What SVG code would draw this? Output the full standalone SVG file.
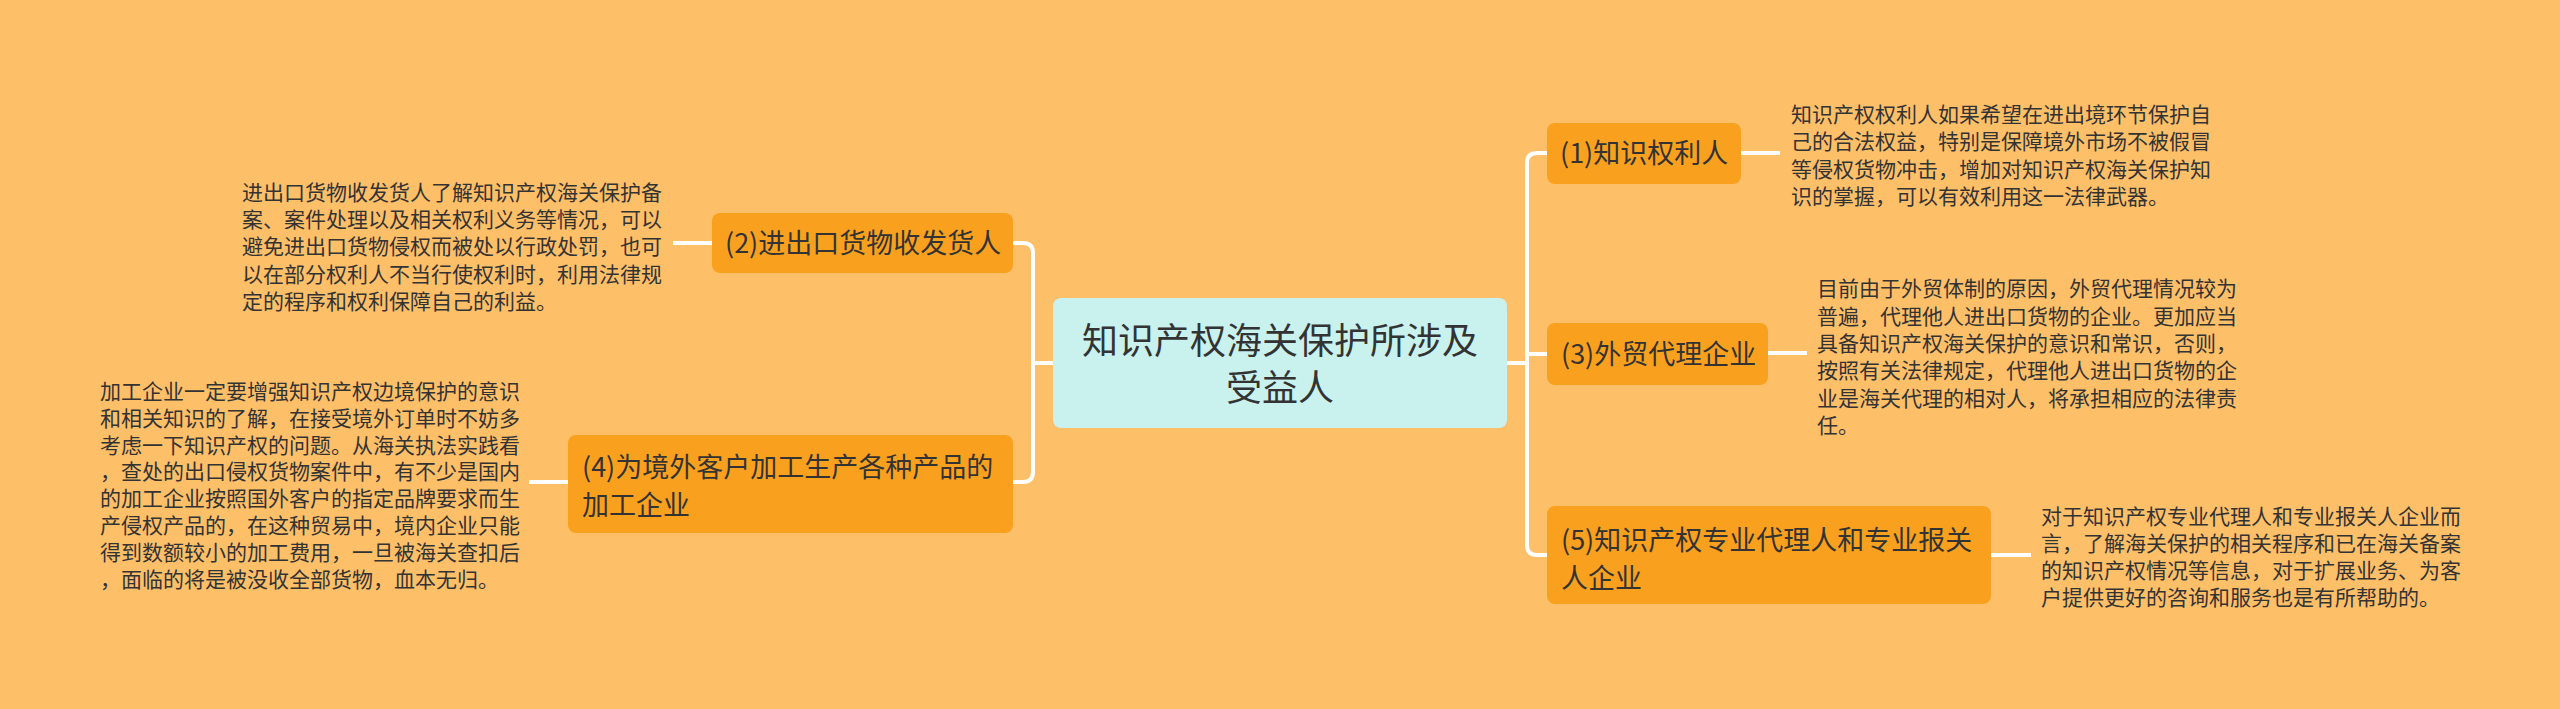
<svg xmlns="http://www.w3.org/2000/svg" width="2560" height="709" viewBox="0 0 2560 709">
<style>
.bg{fill:#FEBF69}
.node{fill:#F9A11F}
.root{fill:#C9F2EF}
.nt{font-family:"Noto Sans CJK SC","Noto Sans",sans-serif;font-size:27px;fill:#333333}
.rt{font-family:"Noto Sans CJK SC","Noto Sans",sans-serif;font-size:36px;fill:#333333;text-anchor:middle}
.lt{font-family:"Noto Sans CJK SC","Noto Sans",sans-serif;font-size:21px;fill:#333333}
.conn{fill:none;stroke:#FFFFFF;stroke-width:4;stroke-linecap:butt}
</style>
<rect class="bg" x="0" y="0" width="2560" height="709"/>
<g id="connectors">
<path class="conn" d="M1507,363 H1527"/>
<path class="conn" d="M1547,153 H1537 Q1527,153 1527,163 V545 Q1527,555 1537,555 H1547"/>
<path class="conn" d="M1527,354 H1547"/>
<path class="conn" d="M1053,363 H1033"/>
<path class="conn" d="M1013,243 H1023 Q1033,243 1033,253 V472 Q1033,482 1023,482 H1013"/>
<path class="conn" d="M1741,153 H1780"/>
<path class="conn" d="M1768,353 H1807"/>
<path class="conn" d="M1991,555 H2031"/>
<path class="conn" d="M712,243 H673"/>
<path class="conn" d="M568,482 H529"/>
</g>
<g id="root">
<rect class="root" x="1053" y="298" width="454" height="130" rx="8"/>
<text class="rt" x="1280" y="354">知识产权海关保护所涉及</text>
<text class="rt" x="1280" y="401">受益人</text>
</g>
<g id="n1">
<rect class="node" x="1547" y="123" width="194" height="61" rx="8"/>
<text class="nt" x="1560" y="163">(1)知识权利人</text>
</g>
<g id="n1-leaf">
<text class="lt" x="1791" y="122">知识产权权利人如果希望在进出境环节保护自</text>
<text class="lt" x="1791" y="149.3">己的合法权益，特别是保障境外市场不被假冒</text>
<text class="lt" x="1791" y="176.6">等侵权货物冲击，增加对知识产权海关保护知</text>
<text class="lt" x="1791" y="203.9">识的掌握，可以有效利用这一法律武器。</text>
</g>
<g id="n3">
<rect class="node" x="1547" y="323" width="221" height="62" rx="8"/>
<text class="nt" x="1561" y="364">(3)外贸代理企业</text>
</g>
<g id="n3-leaf">
<text class="lt" x="1817" y="296.3">目前由于外贸体制的原因，外贸代理情况较为</text>
<text class="lt" x="1817" y="323.6">普遍，代理他人进出口货物的企业。更加应当</text>
<text class="lt" x="1817" y="350.9">具备知识产权海关保护的意识和常识，否则，</text>
<text class="lt" x="1817" y="378.2">按照有关法律规定，代理他人进出口货物的企</text>
<text class="lt" x="1817" y="405.5">业是海关代理的相对人，将承担相应的法律责</text>
<text class="lt" x="1817" y="432.8">任。</text>
</g>
<g id="n5">
<rect class="node" x="1547" y="506" width="444" height="98" rx="8"/>
<text class="nt" x="1561" y="550">(5)知识产权专业代理人和专业报关</text>
<text class="nt" x="1561" y="588">人企业</text>
</g>
<g id="n5-leaf">
<text class="lt" x="2041" y="523.5">对于知识产权专业代理人和专业报关人企业而</text>
<text class="lt" x="2041" y="550.8">言，了解海关保护的相关程序和已在海关备案</text>
<text class="lt" x="2041" y="578.1">的知识产权情况等信息，对于扩展业务、为客</text>
<text class="lt" x="2041" y="605.4">户提供更好的咨询和服务也是有所帮助的。</text>
</g>
<g id="n2">
<rect class="node" x="712" y="213" width="301" height="60" rx="8"/>
<text class="nt" x="725" y="253">(2)进出口货物收发货人</text>
</g>
<g id="n2-leaf">
<text class="lt" x="242" y="199.6">进出口货物收发货人了解知识产权海关保护备</text>
<text class="lt" x="242" y="226.9">案、案件处理以及相关权利义务等情况，可以</text>
<text class="lt" x="242" y="254.2">避免进出口货物侵权而被处以行政处罚，也可</text>
<text class="lt" x="242" y="281.5">以在部分权利人不当行使权利时，利用法律规</text>
<text class="lt" x="242" y="308.8">定的程序和权利保障自己的利益。</text>
</g>
<g id="n4">
<rect class="node" x="568" y="435" width="445" height="98" rx="8"/>
<text class="nt" x="582" y="477">(4)为境外客户加工生产各种产品的</text>
<text class="nt" x="582" y="515">加工企业</text>
</g>
<g id="n4-leaf">
<text class="lt" x="100" y="399">加工企业一定要增强知识产权边境保护的意识</text>
<text class="lt" x="100" y="425.8">和相关知识的了解，在接受境外订单时不妨多</text>
<text class="lt" x="100" y="452.6">考虑一下知识产权的问题。从海关执法实践看</text>
<text class="lt" x="100" y="479.4">，查处的出口侵权货物案件中，有不少是国内</text>
<text class="lt" x="100" y="506.2">的加工企业按照国外客户的指定品牌要求而生</text>
<text class="lt" x="100" y="533">产侵权产品的，在这种贸易中，境内企业只能</text>
<text class="lt" x="100" y="559.8">得到数额较小的加工费用，一旦被海关查扣后</text>
<text class="lt" x="100" y="586.6">，面临的将是被没收全部货物，血本无归。</text>
</g>
</svg>
